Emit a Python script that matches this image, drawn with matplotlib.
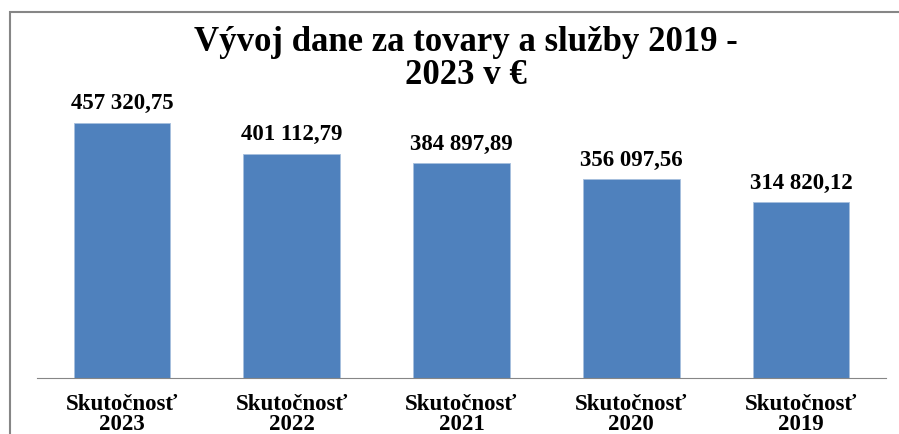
import numpy as np
import matplotlib.pyplot as plt
from matplotlib.patches import Rectangle

categories = ["Skutočnosť\n2023", "Skutočnosť\n2022", "Skutočnosť\n2021",
              "Skutočnosť\n2020", "Skutočnosť\n2019"]
values = [457320.75, 401112.79, 384897.89, 356097.56, 314820.12]
value_labels = ["457 320,75", "401 112,79", "384 897,89", "356 097,56", "314 820,12"]
title = "Vývoj dane za tovary a služby 2019 -\n2023 v €"

plt.rcParams["font.family"] = ["Liberation Serif", "DejaVu Serif"]

fig = plt.figure(figsize=(8.99, 4.35), dpi=100)
# chart frame (cropped at right and bottom in the reference)
fig.patches.append(Rectangle((10 / 899, -0.1), 1.2, 1 - 13 / 435 + 0.1,
                             transform=fig.transFigure, fill=False,
                             edgecolor="#868686", linewidth=1.5))

ax = fig.add_axes([37 / 899, 1 - 379 / 435, (886 - 37) / 899, 279 / 435])
x = np.arange(len(values))
ax.bar(x, values, width=0.57, color="#4F81BD", edgecolor="#A7BFDE", linewidth=0.6)
ax.set_xlim(-0.5, len(values) - 0.5)
ax.set_ylim(0, 500000)

for xi, v, lab in zip(x, values, value_labels):
    ax.annotate(lab, (xi, v), xytext=(0, 7), textcoords="offset points",
                ha="center", va="bottom", fontsize=16.5, fontweight="bold")

ax.set_xticks(x)
ax.set_xticklabels(categories, fontsize=16.5, fontweight="bold", linespacing=0.95)
ax.tick_params(axis="x", length=0, pad=11)
ax.set_yticks([])
for s in ["top", "right", "left"]:
    ax.spines[s].set_visible(False)
ax.spines["bottom"].set_color("#868686")

fig.text(0.518, 1 - 59 / 435, title, ha="center", va="center", fontsize=25,
         fontweight="bold", linespacing=1.0)

fig.savefig("out.png", dpi=100)
